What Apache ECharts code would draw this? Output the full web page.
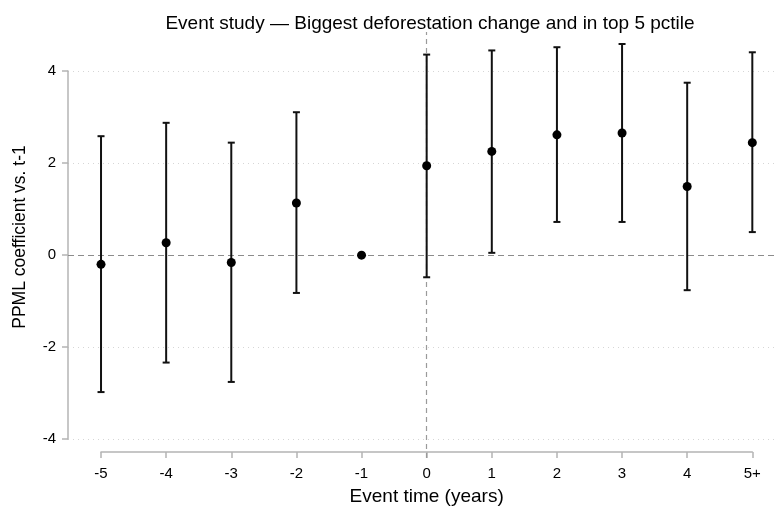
<!DOCTYPE html>
<html>
<head>
  <meta charset="utf-8">
  <title>Event study</title>
  <script src="https://cdn.jsdelivr.net/npm/echarts@6/dist/echarts.min.js"></script>
  <style>
    html, body { margin: 0; padding: 0; background: #fff; }
    #chart { width: 777px; height: 510px; }
  </style>
</head>
<body>
  <div id="chart"></div>
  <script>
    // event time (5 = "5+"), point estimate and 95% CI
    var eventTime = [-5, -4, -3, -2, -1, 0, 1, 2, 3, 4, 5];
    var coef  = [-0.20, 0.27, -0.16, 1.13, 0.00, 1.94, 2.25, 2.61, 2.65, 1.49, 2.44];
    var ciLow = [-2.97, -2.33, -2.75, -0.82, 0.00, -0.48, 0.05, 0.72, 0.72, -0.76, 0.50];
    var ciHigh = [2.58, 2.87, 2.44, 3.10, 0.00, 4.35, 4.44, 4.51, 4.58, 3.74, 4.40];
    var yTicks = [-4, -2, 0, 2, 4];

    var font = 'Liberation Sans, Arial, sans-serif';
    var ink = '#000';

    var myChart = echarts.init(document.getElementById('chart'));

    var pointData = eventTime.map(function (t, i) { return [t, coef[i]]; });
    var ciData = eventTime.map(function (t, i) { return [t, ciLow[i], ciHigh[i]]; });

    // dotted grid lines, zero line left out (drawn dashed below)
    var gridColors = yTicks.map(function (v) { return v === 0 ? 'rgba(0,0,0,0)' : '#d6d6d6'; });

    var option = {
      animation: false,
      backgroundColor: '#fff',
      title: {
        text: 'Event study \u2014 Biggest deforestation change and in top 5 pctile',
        left: 425, top: 9, textAlign: 'center',
        textStyle: { fontFamily: font, fontSize: 19, fontWeight: 'normal', color: ink }
      },
      grid: [
        // plot region
        { left: 68, right: 0, top: 32, bottom: 52 },
        // visible y axis (from -4 to 4)
        { left: 68, right: 0, top: 71, bottom: 71 },
        // visible x axis (from -5 to 5+)
        { left: 101, right: 24.7, bottom: 58, height: 1 }
      ],
      xAxis: [
        { gridIndex: 0, type: 'value', min: -5.507, max: 5.379, show: false },
        { gridIndex: 1, type: 'value', min: 0, max: 1, show: false },
        {
          gridIndex: 2, type: 'value', min: -5, max: 5, interval: 1, position: 'bottom',
          name: 'Event time (years)', nameLocation: 'middle', nameGap: 35,
          nameTextStyle: { fontFamily: font, fontSize: 19, color: ink },
          axisLine: { show: true, lineStyle: { color: '#b4b4b4', width: 1.5 } },
          axisTick: { show: true, length: 6, lineStyle: { color: '#b4b4b4', width: 1.5 } },
          axisLabel: {
            fontFamily: font, fontSize: 15, color: ink, margin: 14,
            formatter: function (v) { return v === 5 ? '5+' : String(v); }
          },
          splitLine: { show: false }
        }
      ],
      yAxis: [
        { gridIndex: 0, type: 'value', min: -4.40, max: 4.84, show: false },
        {
          gridIndex: 1, type: 'value', min: -4, max: 4, interval: 2,
          name: 'PPML coefficient vs. t-1', nameLocation: 'middle', nameGap: 39,
          nameTextStyle: { fontFamily: font, fontSize: 17.5, color: ink, padding: [0, 0, 0, 36] },
          axisLine: { show: true, lineStyle: { color: '#b4b4b4', width: 1.5 } },
          axisTick: { show: true, length: 6, lineStyle: { color: '#b4b4b4', width: 1.5 } },
          axisLabel: { fontFamily: font, fontSize: 15, color: ink, margin: 12 },
          splitLine: { show: true, lineStyle: { color: gridColors, type: [1, 4], width: 1 } }
        },
        { gridIndex: 2, type: 'value', show: false }
      ],
      series: [
        {
          // reference lines sit under the marks
          type: 'line',
          xAxisIndex: 0, yAxisIndex: 0,
          data: [],
          z: 1,
          markLine: {
            silent: true, symbol: 'none', label: { show: false }, z: 1,
            data: [
              { yAxis: 0, lineStyle: { color: '#8c8c8c', type: [6, 4], width: 1.2 } },
              { xAxis: 0, lineStyle: { color: '#9a9a9a', type: [5, 4], width: 1.2 } }
            ]
          }
        },
        {
          type: 'custom',
          xAxisIndex: 0, yAxisIndex: 0,
          data: ciData,
          z: 3,
          renderItem: function (params, api) {
            var lo = api.coord([api.value(0), api.value(1)]);
            var hi = api.coord([api.value(0), api.value(2)]);
            var hw = 3.5;
            var st = { stroke: '#111', lineWidth: 2 };
            return {
              type: 'group',
              children: [
                { type: 'line', shape: { x1: lo[0], y1: lo[1], x2: hi[0], y2: hi[1] }, style: st },
                { type: 'line', shape: { x1: lo[0] - hw, y1: lo[1], x2: lo[0] + hw, y2: lo[1] }, style: st },
                { type: 'line', shape: { x1: hi[0] - hw, y1: hi[1], x2: hi[0] + hw, y2: hi[1] }, style: st }
              ]
            };
          }
        },
        {
          type: 'scatter',
          xAxisIndex: 0, yAxisIndex: 0,
          data: pointData,
          symbol: 'circle', symbolSize: 9,
          itemStyle: { color: ink, opacity: 1 },
          z: 4
        }
      ]
    };

    myChart.setOption(option);
  </script>
</body>
</html>
